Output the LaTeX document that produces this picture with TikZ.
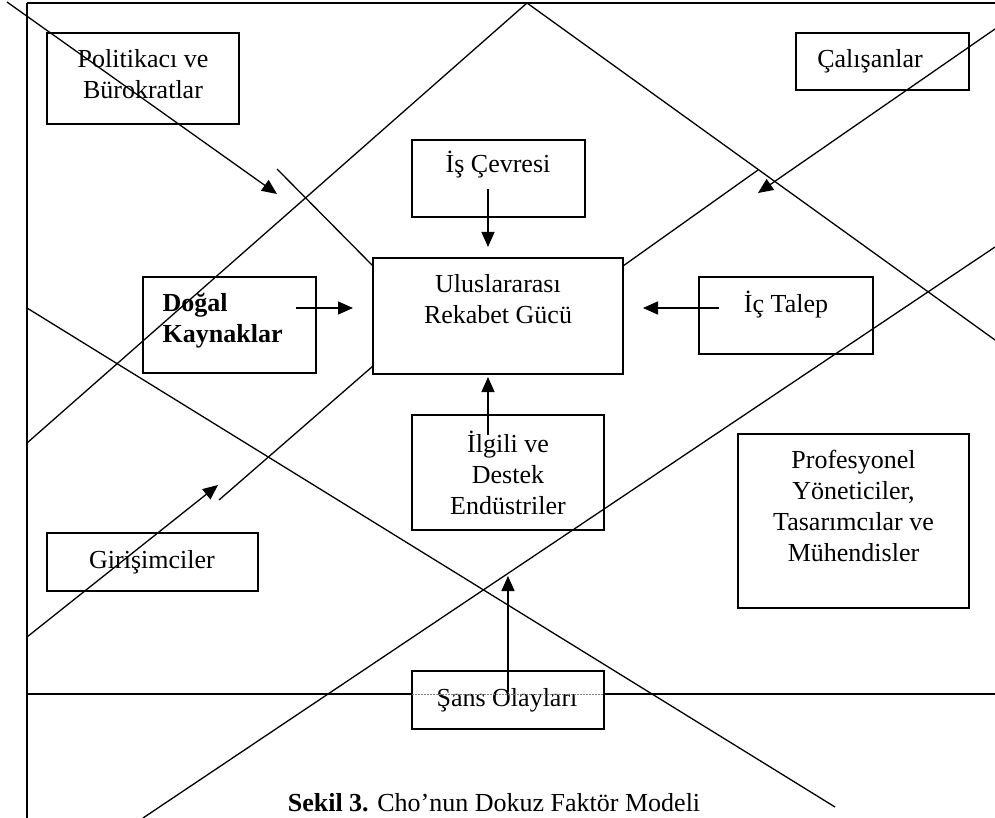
\documentclass[tikz,border=0pt]{standalone}
\usepackage{fontspec}
\setmainfont{Liberation Serif}
\usetikzlibrary{arrows.meta}
\begin{document}
\begin{tikzpicture}[x=1pt,y=-1pt, line width=1.3pt,
  box/.style={draw, inner sep=0pt},
  txt/.style={font=\fontsize{26}{31}\selectfont, align=center, inner sep=0pt},
  arr/.style={-{Triangle[length=15pt,width=13pt]}}]
\useasboundingbox (0,0) rectangle (995,818);
% boxes
\node[box, minimum width=192pt, minimum height=91pt]  (pol)  at (143,78.5) {};
\node[box, minimum width=173pt, minimum height=57pt]  (cal)  at (882.5,61.5) {};
\node[box, minimum width=173pt, minimum height=77pt]  (is)   at (498.5,178.5) {};
\node[box, minimum width=250pt, minimum height=116pt] (urg)  at (498,316) {};
\node[box, minimum width=173pt, minimum height=96pt]  (dog)  at (229.5,325) {};
\node[box, minimum width=174pt, minimum height=77pt]  (ic)   at (786,315.5) {};
\node[box, minimum width=192pt, minimum height=115pt] (ilg)  at (508,472.5) {};
\node[box, minimum width=231pt, minimum height=174pt] (pro)  at (853.5,521) {};
\node[box, minimum width=211pt, minimum height=58pt]  (gir)  at (152.5,562) {};
\node[box, minimum width=192pt, minimum height=58pt]  (sans) at (508,700) {};
% texts
\node[txt] (tpol) at (143,74) {Politikacı ve\\Bürokratlar};
\node[txt] (tcal) at (870,61) {Çalışanlar};
\node[txt] (tis) at (498,165) {İş Çevresi};
\node[txt] (turg) at (498,299) {Uluslararası\\Rekabet Gücü};
\node[txt, align=left, anchor=west] (tdog) at (162,321) {\textbf{Doğal}\\\textbf{Kaynaklar}};
\node[txt] (tic) at (786,305) {İç Talep};
\node[txt] (tilg) at (508,473) {İlgili ve\\Destek\\Endüstriler};
\node[txt] (tpro) at (853.5,506) {Profesyonel\\Yöneticiler,\\Tasarımcılar ve\\Mühendisler};
\node[txt] (tgir) at (152,562) {Girişimciler};
\node[txt] (tsans) at (507,700) {Şans Olayları};
\node[txt] (cap) at (494,803) {\textbf{Sekil 3.} Cho’nun Dokuz Faktör Modeli};
% frame
\coordinate (tl) at (27,3);
\coordinate (tr) at (995,3);
\coordinate (bl) at (27,818);
\coordinate (hl) at (27,694);
\coordinate (hr) at (995,694);
\draw (tl) -- (tr);
\draw (tl) -- (bl);
\draw (hl) -- (412,694);
\draw[gray, line width=0.8pt, dash pattern=on 2pt off 1pt] (412,694) -- (604,694);
\draw (604,694) -- (hr);
% diagonals
\coordinate (apex) at (527,3);
\draw (apex) -- (27,443);
\draw (apex) -- (995,340);
\draw (995,247) -- (143,818);
\draw (27,308) -- (835,807);
\coordinate (p1s) at (7,2);   \coordinate (p1e) at (277,194);
\draw[arr] (p1s) -- (p1e);
\draw (277,169) -- (373,266);
\coordinate (p5s) at (995,29); \coordinate (p5e) at (758,193);
\draw[arr] (p5s) -- (p5e);
\draw (758,170) -- (623,266);
\coordinate (p9s) at (27,637); \coordinate (p9e) at (218,485);
\draw[arr] (p9s) -- (p9e);
\draw (219,500) -- (373,366);
% arrows to centre
\coordinate (a1s) at (488,189); \coordinate (a1e) at (488,247);
\draw[arr] (a1s) -- (a1e);
\coordinate (a2s) at (296,308); \coordinate (a2e) at (353,308);
\draw[arr] (a2s) -- (a2e);
\coordinate (a3s) at (719,308); \coordinate (a3e) at (643,308);
\draw[arr] (a3s) -- (a3e);
\coordinate (a4s) at (488,435); \coordinate (a4e) at (488,377);
\draw[arr] (a4s) -- (a4e);
\coordinate (a5s) at (508,692); \coordinate (a5e) at (508,576);
\draw[arr] (a5s) -- (a5e);
\end{tikzpicture}
\end{document}
